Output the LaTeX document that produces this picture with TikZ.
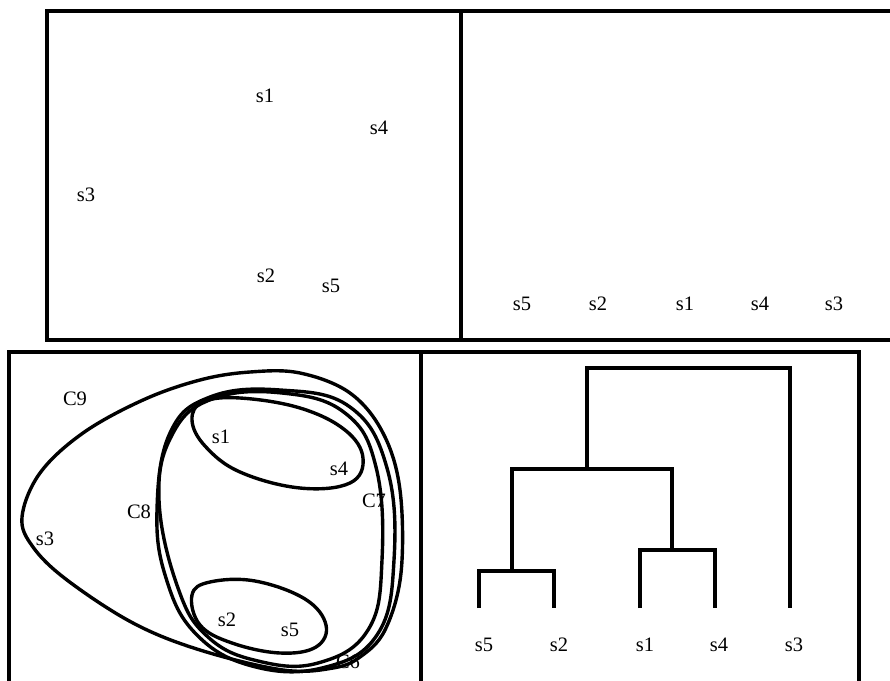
\documentclass[tikz,border=0pt]{standalone}
\usepackage{fontspec}
\setmainfont{Liberation Serif}
\begin{document}
\begin{tikzpicture}[x=1pt,y=-1pt,
  lbl/.style={inner sep=0pt,font=\fontsize{20.5}{22}\selectfont},
  frame/.style={line width=3.6pt},
  curve/.style={line width=3.4pt},
  dend/.style={line width=3.5pt}]
\useasboundingbox (0,0) rectangle (890,680);
\clip (0,0) rectangle (890,680);
\fill[white] (0,0) rectangle (890,680);
% frames
\draw[frame] (47,11) rectangle (900,340);
\draw[frame] (461,11) -- (461,340);
\draw[frame] (9,352) rectangle (859,700);
\draw[frame] (421,352) -- (421,700);
% top-left scatter
\node[lbl] (a1) at (265,96) {s1};
\node[lbl] (a4) at (379,128) {s4};
\node[lbl] (a3) at (86,195) {s3};
\node[lbl] (a2) at (266,276) {s2};
\node[lbl] (a5) at (331,286) {s5};
% top-right row
\node[lbl] (b5) at (522,304) {s5};
\node[lbl] (b2) at (598,304) {s2};
\node[lbl] (b1) at (685,304) {s1};
\node[lbl] (b4) at (760,304) {s4};
\node[lbl] (b3) at (834,304) {s3};
% bottom-left nested clusters
\draw[curve] plot[smooth cycle,tension=0.6] coordinates {(22,517) (40,473) (83,433) (143,400) (200,380) (250,372) (300,373) (350,393) (383,433) (400,490) (401,573) (385,630) (360,657) (333,668) (283,670) (200,650) (133,623) (67,580) (33,547)};
\draw[curve] plot[smooth cycle,tension=0.7] coordinates {(157,510) (170,433) (210,397) (280,390) (350,407) (387,468) (394,560) (377,635) (322,668) (252,666) (196,634) (166,578)};
\draw[curve] plot[smooth cycle,tension=0.7] coordinates {(159,500) (172,435) (212,399) (282,393) (345,413) (376,467) (382,560) (368,630) (318,663) (258,661) (208,637) (178,588)};
\draw[curve] plot[smooth cycle,tension=0.65] coordinates {(192,420) (203,402) (240,398) (300,408) (345,430) (363,458) (350,483) (300,488) (240,472) (205,446)};
\draw[curve] plot[smooth cycle,tension=0.65] coordinates {(192,595) (210,582) (255,581) (305,599) (326,625) (316,647) (280,653) (232,643) (200,625)};
\node[lbl] (c9) at (75,399) {C9};
\node[lbl] (c1) at (221,437) {s1};
\node[lbl] (c4) at (339,469) {s4};
\node[lbl] (c8) at (139,512) {C8};
\node[lbl] (c7) at (374,501) {C7};
\node[lbl] (c3) at (45,539) {s3};
\node[lbl] (c2) at (227,620) {s2};
\node[lbl] (c5) at (290,630) {s5};
\node[lbl] (c6) at (348,662) {C6};
% dendrogram
\coordinate (l5) at (479,608);
\coordinate (l2) at (554,608);
\coordinate (l1) at (640,608);
\coordinate (l4) at (715,608);
\coordinate (l3) at (790,608);
\coordinate (m52) at (512,571);
\coordinate (m14) at (672,550);
\coordinate (m4) at (587,469);
\draw[dend] (l5) |- (m52) -| (l2);
\draw[dend] (l1) |- (m14) -| (l4);
\draw[dend] (m52) |- (m4) -| (m14);
\draw[dend] (m4) |- (587,368) -| (l3);
\node[lbl] (d5) at (484,645) {s5};
\node[lbl] (d2) at (559,645) {s2};
\node[lbl] (d1) at (645,645) {s1};
\node[lbl] (d4) at (719,645) {s4};
\node[lbl] (d3) at (794,645) {s3};
\end{tikzpicture}
\end{document}
